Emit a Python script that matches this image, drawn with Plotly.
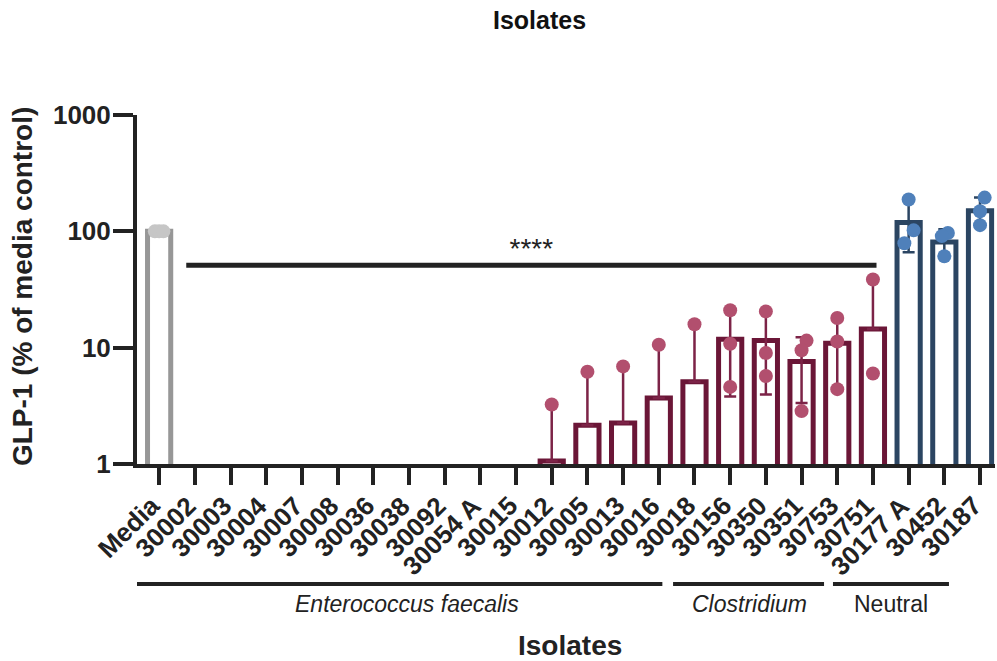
import plotly.graph_objects as go

# ---------------- data ----------------
categories = ["Media", "30002", "30003", "30004", "30007", "30008", "30036", "30038",
              "30092", "30054 A", "30015", "30012", "30005", "30013", "30016", "30018",
              "30156", "30350", "30351", "30753", "30751", "30177 A", "30452", "30187"]
groups = ["media"] + ["ef"] * 14 + ["clos"] * 6 + ["neutral"] * 3

means = [100, None, None, None, None, None, None, None, None, None, None,
         1.06, 2.15, 2.25, 3.7, 5.1, 11.8, 11.5, 7.6, 10.9, 14.5, 119, 81, 150]
err_plus = [0, 0, 0, 0, 0, 0, 0, 0, 0, 0, 0,
            2.15, 4.05, 4.65, 6.8, 10.4, 9.2, 9.0, 4.7, 7.0, 23.5, 69, 23, 45]
err_minus = [0, 0, 0, 0, 0, 0, 0, 0, 0, 0, 0,
             0, 0, 0, 0, 0, 8.0, 7.55, 4.25, 6.5, 0, 53, 20, 38]

points = {
    "Media": [100, 100, 100],
    "30012": [3.25],
    "30005": [6.2],
    "30013": [6.9],
    "30016": [10.6],
    "30018": [15.9],
    "30156": [21.0, 10.8, 4.6],
    "30350": [20.5, 9.0, 5.7],
    "30351": [11.5, 9.5, 2.85],
    "30753": [18.0, 11.3, 4.4],
    "30751": [38.5, 6.0],
    "30177 A": [188, 102, 79],
    "30452": [96.7, 91, 61],
    "30187": [195, 149, 113],
}
point_jitter = {
    "Media": [-0.12, 0.0, 0.12],
    "30351": [0.14, 0.0, 0.0],
    "30177 A": [0.0, 0.14, -0.12],
    "30452": [0.1, -0.07, 0.0],
    "30187": [0.13, 0.0, 0.0],
}

sig_value = 51
sig_from, sig_to = 0.76, 20.1
sig_label = "****"

group_labels = [("Enterococcus faecalis", -0.62, 14.1, True, 6.95),
                ("Clostridium", 14.4, 18.63, True, 16.55),
                ("Neutral", 18.88, 22.13, False, 20.5)]

# ---------------- styles ----------------
bar_col = {"media": "#979797", "ef": "#6b1637", "clos": "#6b1637", "neutral": "#2b4562"}
err_col = {"media": "#979797", "ef": "#7c2347", "clos": "#7c2347", "neutral": "#2b4562"}
pt_col = {"media": "#c6c6c6", "ef": "#b24f6e", "clos": "#b24f6e", "neutral": "#4f80ba"}
AX = "#222222"
FONT = "Arial, 'Liberation Sans', sans-serif"

fig = go.Figure()
xs = list(range(len(categories)))


def in_group(i, g):
    return groups[i] == g or (g == "ef" and groups[i] == "clos")


# bars, one trace per colour group
for g in ["media", "ef", "neutral"]:
    idx = [i for i in xs if in_group(i, g) and means[i] is not None]
    fig.add_trace(go.Bar(
        x=idx, y=[means[i] for i in idx],
        width=0.65,
        marker=dict(color="white", line=dict(color=bar_col[g], width=5)),
        error_y=dict(type="data", symmetric=False,
                     array=[err_plus[i] for i in idx],
                     arrayminus=[err_minus[i] for i in idx],
                     color=err_col[g], thickness=2.5, width=6, visible=(g != "media")),
        showlegend=False, hoverinfo="skip"))

# points
for g in ["media", "ef", "neutral"]:
    px, py = [], []
    for i, c in enumerate(categories):
        if not in_group(i, g):
            continue
        vals = points.get(c, [])
        jit = point_jitter.get(c, [0.0] * len(vals))
        for v, j in zip(vals, jit):
            px.append(i + j)
            py.append(v)
    fig.add_trace(go.Scatter(x=px, y=py, mode="markers",
                             marker=dict(color=pt_col[g], size=14, line=dict(width=0)),
                             showlegend=False, hoverinfo="skip"))

# significance bar
fig.add_trace(go.Scatter(x=[sig_from, sig_to], y=[sig_value, sig_value], mode="lines",
                         line=dict(color=AX, width=5), showlegend=False, hoverinfo="skip"))
fig.add_trace(go.Scatter(x=[(sig_from + sig_to) / 2], y=[sig_value], mode="text",
                         text=[sig_label], textposition="top center",
                         textfont=dict(family=FONT, size=28, color=AX),
                         showlegend=False, hoverinfo="skip"))

# category labels (rotated), anchored just below each tick
for i, c in enumerate(categories):
    fig.add_annotation(xref="x", yref="paper", x=i, y=-0.072, xshift=8,
                       xanchor="right", yanchor="top", textangle=-45, showarrow=False,
                       text=f"<b>{c}</b>", borderpad=0,
                       font=dict(family=FONT, size=26, color=AX))

# group brackets below axis
for name, x0, x1, ital, xc in group_labels:
    fig.add_shape(type="line", xref="x", yref="paper", x0=x0, x1=x1, y0=-0.344, y1=-0.344,
                  line=dict(color=AX, width=4))
    fig.add_annotation(xref="x", yref="paper", x=xc, y=-0.358, yanchor="top", showarrow=False,
                       text=f"<i>{name}</i>" if ital else name,
                       font=dict(family=FONT, size=23, color=AX))

# titles
fig.add_annotation(xref="paper", yref="paper", x=0.469, y=1.273, yanchor="middle",
                   text="<b>Isolates</b>", showarrow=False,
                   font=dict(family=FONT, size=25, color="#111"))
fig.add_annotation(xref="paper", yref="paper", x=0.505, y=-0.52, yanchor="middle",
                   text="<b>Isolates</b>", showarrow=False,
                   font=dict(family=FONT, size=28, color=AX))
fig.add_annotation(xref="paper", yref="paper", x=-0.134, y=0.507, textangle=-90,
                   xanchor="center", yanchor="middle",
                   text="<b>GLP-1 (% of media control)</b>", showarrow=False,
                   font=dict(family=FONT, size=28, color=AX))

fig.update_layout(
    width=997, height=661,
    margin=dict(l=137, r=2, t=115, b=197),
    plot_bgcolor="white", paper_bgcolor="white",
    xaxis=dict(range=[-0.62, 23.42], tickmode="array", tickvals=xs, showticklabels=False,
               showline=True, linecolor=AX, linewidth=4,
               ticks="outside", ticklen=17, tickwidth=4, tickcolor=AX,
               showgrid=False, zeroline=False, fixedrange=True),
    yaxis=dict(type="log", range=[0, 3], tickmode="array", tickvals=[1, 10, 100, 1000],
               ticktext=["1", "10", "100", "1000"], showline=True, linecolor=AX, linewidth=4,
               ticks="outside", ticklen=20, tickwidth=4, tickcolor=AX,
               ticklabelstandoff=-3,
               tickfont=dict(family=FONT, size=26, color=AX, weight="bold"),
               showgrid=False, zeroline=False, fixedrange=True),
)

fig.write_html("out.html")
